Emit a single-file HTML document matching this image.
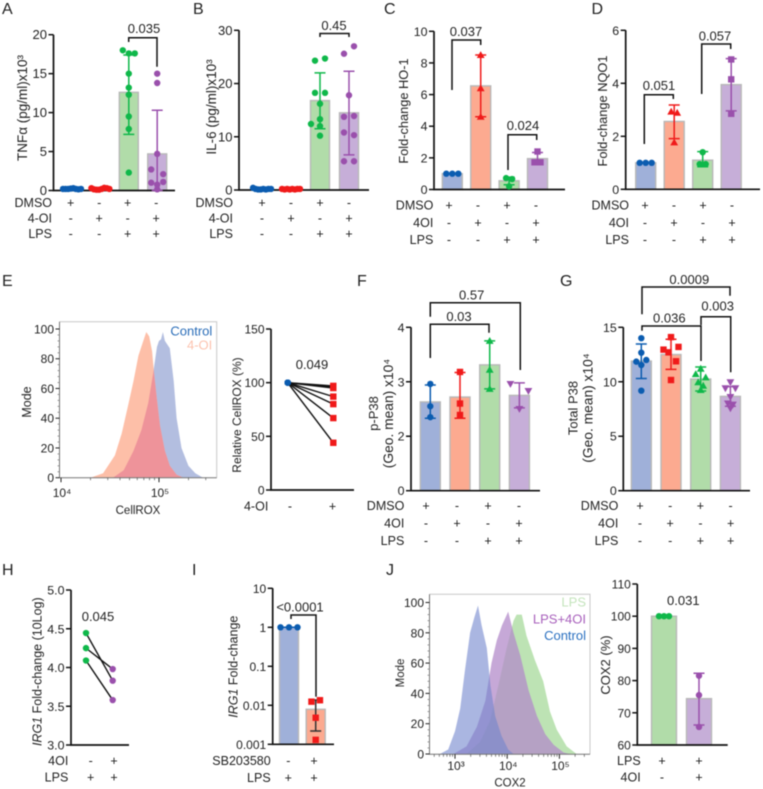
<!DOCTYPE html>
<html lang="en">
<head>
<meta charset="utf-8">
<title>Multi-panel figure</title>
<style>
html,body{margin:0;padding:0;background:#fff;width:763px;height:789px;overflow:hidden}
svg{display:block;filter:blur(.4px)}
text{font-family:"Liberation Sans",Arial,sans-serif;fill:#222}
</style>
</head>
<body>
<svg id="fig" xmlns="http://www.w3.org/2000/svg" width="763" height="789" viewBox="0 0 763 789">
<defs><clipPath id="e-clip"><path id="e-clip-path" d=""/></clipPath></defs>
</svg>
<script>
/* ---------- DATA ---------- */
const signsDmso = ['+','-','+','-'];
const signsOi = ['-','+','-','+'];
const signsLps = ['-','-','+','+'];

const aTicks = [0,5,10,15,20];
const aMeans = [0.2,0.2,12.6,4.7];
const aErrHi = [0.3,0.3,17.4,10.3];
const aErrLo = [0.1,0.1,7.2,0];
const aPoints = [
  [[0.2,0.2,0.2,0.25,0.3,0.2,0.15,0.2]],
  [[0.3,0.15,0.1,0.1,0.2,0.35,0.3,0.2]],
  [[18,17.6,17.6],[15],[13.2],[12.3],[9.5],[7.9],[2.3]],
  [[15],[13.8],[4.7],[2.7,null,2.1],[1.0,0.75,1.1],[0.15]]
];

const bTicks = [0,10,20,30];
const bMeans = [0.2,0.2,16.8,14.5];
const bErrHi = [0.3,0.3,22,22.3];
const bErrLo = [0.1,0.1,11.5,6.6];
const bPoints = [
  [[0.4,0.2,0.1,0.1,0.2,0.1,0.2,0.2]],
  [[0.2,0.1,0.2,0.1,0.2,0.1,0.2,0.2]],
  [[24.3,24.7],[18.25,18.25],[16.2],[13.3],[12.4,12,null],[10.2]],
  [[25.6,27],[17.8],[13.75,13.9],[10.8,10.3],[5.4,5.4]]
];

const cTicks = [0,2,4,6,8,10];
const cMeans = [1,6.55,0.55,1.95];
const cErrHi = [1,8.5,0.78,2.34];
const cErrLo = [1,4.6,0.3,1.6];
const cPoints = [
  [[1,1,1]],
  [[8.5],[6.4],[4.6]],
  [[0.72,0.66],[0.2]],
  [[2.4],[1.72,1.72]]
];

const dTicks = [0,2,4,6];
const dMeans = [1,2.56,1.1,3.95];
const dErrHi = [1,3.18,1.42,4.93];
const dErrLo = [1,1.91,0.85,2.96];
const dPoints = [
  [[1,1,1]],
  [[2.93,2.89],[1.77]],
  [[1.4],[0.95,0.95]],
  [[4.9],[4.15],[2.85]]
];

const fTicks = [0,2,3,4];
const fMeans = [2.63,2.72,3.31,2.75];
const fErrHi = [2.94,3.17,3.75,2.98];
const fErrLo = [2.33,2.33,2.87,2.52];
const fPoints = [
  [[2.96],[2.55],[2.35]],
  [[3.18],[2.6],[2.39]],
  [[3.75],[3.22],[2.87]],
  [[2.96,null,2.83],[2.5]]
];

const gTicks = [0,5,10,15];
const gMeans = [11.9,12.5,10.25,8.66];
const gErrHi = [13.47,13.9,11.35,9.55];
const gErrLo = [10.3,11.14,9.15,7.75];
const gPoints = [
  [[14],[12.67],[11.85,11.54,12],[9.18]],
  [[14.1],[12.95,12.7,null,13.2],[null,null,11.88],[10.16]],
  [[11.2],[10.7,null,10.4],[9.95,9.64],[9.24]],
  [[9.95],[9.4,null,9.4],[8.6],[8,7.9],[7.56]]
];

const iTicks = [0.001,0.01,0.1,1,10];
const iTickLabels = ['0.001','0.01','0.1','1','10'];
const iMeans = [1,0.0079];
const iErrHi = [1,0.0137];
const iErrLo = [1,0.0022];
const iPoints = [
  [[1,1,1]],
  [[0.0124,0.0135],[0.0048],[0.0013]]
];

const jBarTicks = [60,70,80,90,100,110];
const jBarMeans = [100,74.4];
const jBarErrHi = [100,82.3];
const jBarErrLo = [100,66.2];
const jBarPoints = [
  [[100,100,100]],
  [[81.5],[75.5],[65.6]]
];

const relRoxTicks = [0,50,100,150];
const relRoxBefore = [100,100,100,100,100,100,100];
const relRoxAfter = [97,96,95,87,80,67,44];

const hTicks = [3.0,3.5,4.0,4.5,5.0];
const hBefore = [4.445,4.25,4.09];
const hAfter = [3.83,3.98,3.58];

const histYTicks = [0,20,40,60,80,100];

const eControlLog = [4.53,4.64,4.74,4.82,4.89,4.94,4.98,5.00,5.02,5.04,5.06,5.11,5.15,5.18,5.23,5.30,5.37,5.45];
const eControlMode = [0,5,18,32,50,70,88,92,93,98,92,87,65,40,20,8,3,0];
const eOiLog = [4.30,4.43,4.55,4.62,4.69,4.74,4.79,4.84,4.87,4.90,4.93,4.95,4.98,5.01,5.06,5.11,5.18,5.25];
const eOiMode = [0,3,15,30,50,65,82,92,98,95,85,70,52,35,18,8,2,0];

const jControlLog = [2.71,2.87,3.0,3.10,3.19,3.29,3.37,3.44,3.51,3.61,3.68,3.77,3.89,4.02,4.12];
const jControlMode = [0,3,15,30,55,80,90,98,85,70,45,25,12,3,0];
const jOiLog = [2.97,3.22,3.42,3.58,3.70,3.80,3.90,4.02,4.12,4.25,4.41,4.57,4.73,4.89,5.08,5.20];
const jOiMode = [0,5,18,35,60,75,85,94,80,65,42,25,13,6,1,0];
const jLpsLog = [3.22,3.48,3.67,3.83,3.99,4.12,4.18,4.28,4.37,4.53,4.69,4.82,4.95,5.14,5.33];
const jLpsMode = [0,8,22,45,70,88,92,92,78,62,48,28,16,5,0];

/* ---------- STYLE ---------- */
const BLUE={bar:'#9fb0d9',pt:'#0b5cb0'}, RED={bar:'#fcaa90',pt:'#f01a1a'},
      GREEN={bar:'#b1dca9',pt:'#0fb84a'}, PURPLE={bar:'#c6aed8',pt:'#9a50ac'};
const FOUR=[BLUE,RED,GREEN,PURPLE];
const NS='http://www.w3.org/2000/svg';
const svg=document.getElementById('fig');

function mk(tag,attrs,parent){
  const n=document.createElementNS(NS,tag);
  for(const k in attrs) n.setAttribute(k,attrs[k]);
  (parent||svg).appendChild(n);
  return n;
}
function txt(parent,x,y,s,anchor,size,fill){
  const n=mk('text',{x:x,y:y,'text-anchor':anchor||'start','font-size':size||12.5},parent);
  if(fill) n.setAttribute('style','fill:'+fill);
  n.textContent=s;
  return n;
}
function vtxt(parent,x,y,s,size){
  const n=mk('text',{x:x,y:y,'text-anchor':'middle','font-size':size||12.5,transform:'rotate(-90 '+x+' '+y+')'},parent);
  n.textContent=s;
  
  
  return n;
}
function group(name){
  const g=mk('g',{},svg);
  
  
  return g;
}
function tickScale(ticks,y0,yTop,log){
  const seg=(y0-yTop)/(ticks.length-1);
  const f=v=>log?Math.log10(v):v;
  return function(v){
    let i=0;
    while(i<ticks.length-2 && v>ticks[i+1]) i++;
    const t=(f(v)-f(ticks[i]))/(f(ticks[i+1])-f(ticks[i]));
    return y0-(i+t)*seg;
  };
}
function marker(g,type,x,y,color){
  let n;
  if(type==='circle') n=mk('circle',{cx:x,cy:y,r:3.2,fill:color},g);
  else if(type==='square') n=mk('rect',{x:x-3.2,y:y-3.2,width:6.4,height:6.4,fill:color},g);
  else if(type==='up') n=mk('path',{d:'M'+x+' '+(y-3.9)+'L'+(x+3.9)+' '+(y+3)+'L'+(x-3.9)+' '+(y+3)+'Z',fill:color},g);
  else n=mk('path',{d:'M'+x+' '+(y+3.9)+'L'+(x+3.9)+' '+(y-3)+'L'+(x-3.9)+' '+(y-3)+'Z',fill:color},g);
  return n;
}
function yAxis(g,c,scale,ticks,labels){
  const ax=mk('path',{d:'M'+c.axisX+' '+c.yTop+'V'+c.y0+'H'+c.xEnd,fill:'none',stroke:'#111','stroke-width':1.7},g);
  
  
  ticks.forEach((t,i)=>{
    const y=scale(t);
    const tk=mk('line',{x1:c.axisX-5,x2:c.axisX,y1:y,y2:y,stroke:'#111','stroke-width':1.5},g);
    
    
    const lb=txt(g,c.axisX-6.5,y+4.5,labels?labels[i]:(c.fixed?t.toFixed(c.fixed):String(t)),'end',c.tickSize||12.4);
    
    
  });
}
function condRows(g,rows,c){
  rows.forEach((r,ri)=>{
    const y=c.rowY0+ri*c.rowStep;
    const lb=txt(g,c.rowRight,y,r.label,'end',12.5);
    
    
    r.signs.forEach((s,i)=>{
      const t=txt(g,c.condX0+i*c.condStep,y,s,'middle',12.5);
      
      
    });
  });
}
function bracket(g,x1,x2,top,b1,b2,label,lx,ly){
  const p=mk('path',{d:'M'+x1+' '+b1+'V'+top+'H'+x2+'V'+b2,fill:'none',stroke:'#111','stroke-width':1.5},g);
  
  
  const t=txt(g,lx,ly,label,'middle',13);
  
  
}
function pval(g,x,y,label){
  const t=txt(g,x,y,label,'middle',13);
  
  
}
function letter(s,x,y){
  const t=txt(svg,x,y,s,'start',16);
  
  
}
function barChart(g,c,means,hi,lo,points,ticks,colors,markers,labels){
  const scale=tickScale(ticks,c.y0,c.yTop,c.log);
  const X=i=>c.x0+i*c.step;
  means.forEach((m,i)=>{
    const y=scale(m);
    const bar=mk('rect',{x:X(i)-c.barW/2,y:y,width:c.barW,height:c.y0-y,fill:colors[i].bar,stroke:'#b8b8b8','stroke-width':1.4},g);
    
    
  });
  yAxis(g,c,scale,ticks,labels);
  means.forEach((m,i)=>{
    const col=(c.errColor&&c.errColor[i])||colors[i].pt;
    const yh=scale(hi[i]), yl=scale(Math.max(lo[i],ticks[0]));
    const e=mk('path',{d:'M'+X(i)+' '+yh+'V'+yl+'M'+(X(i)-5.5)+' '+yh+'H'+(X(i)+5.5)+'M'+(X(i)-5.5)+' '+yl+'H'+(X(i)+5.5),fill:'none',stroke:col,'stroke-width':1.5},g);
    
    
  });
  points.forEach((rows,i)=>{
    rows.forEach(row=>{
      const n=row.length;
      const sp=n>1?Math.min(c.spacing,18/(n-1)):0;
      row.forEach((v,k)=>{
        if(v===null) return;
        const x=X(i)+(k-(n-1)/2)*sp;
        const pt=marker(g,markers[i],x,scale(v),colors[i].pt);
        
        
      });
    });
  });
}
function histArea(g,logs,modes,xs,ys,base,attrs){
  let d='M'+xs(logs[0])+' '+base;
  logs.forEach((l,i)=>{d+='L'+xs(l).toFixed(1)+' '+ys(modes[i]).toFixed(1);});
  d+='L'+xs(logs[logs.length-1])+' '+base+'Z';
  const p=mk('path',Object.assign({d:d},attrs),g);
  return p;
}
function histFrame(g,c,xs,ys,decades,labels){
  const fr=mk('path',{d:'M'+c.left+' '+c.top+'H'+c.right+'V'+c.bottom,fill:'none',stroke:'#c8c8c8','stroke-width':1},g);
  
  
  const ax=mk('path',{d:'M'+c.left+' '+c.top+'V'+c.bottom+'H'+c.right,fill:'none',stroke:'#777','stroke-width':1},g);
  
  
  histYTicks.forEach(t=>{
    const y=ys(t);
    const tk=mk('line',{x1:c.left-4,x2:c.left,y1:y,y2:y,stroke:'#222','stroke-width':1},g);
    
    
    const lb=txt(g,c.left-5.5,y+4.5,String(t),'end',12);
    
    
    if(t<100) for(let m=4;m<20;m+=4){
      const mt=mk('line',{x1:c.left-2,x2:c.left,y1:ys(t+m),y2:ys(t+m),stroke:'#777','stroke-width':.7},g);
      
      
    }
  });
  decades.forEach((d,i)=>{
    const x=xs(d);
    const tk=mk('line',{x1:x,x2:x,y1:c.bottom,y2:c.bottom+4.5,stroke:'#222','stroke-width':1},g);
    
    
    const lb=txt(g,x+1,c.xLabelY,labels[i],'middle',12);
    
    
  });
  for(let d=decades[0]-1;d<=decades[decades.length-1];d++){
    for(let m=2;m<10;m++){
      const x=xs(d+Math.log10(m));
      if(x<c.left||x>c.right) continue;
      const mt=mk('line',{x1:x,x2:x,y1:c.bottom,y2:c.bottom+2.5,stroke:'#555','stroke-width':.7},g);
      
      
    }
  }
}
const FM=['circle','circle','circle','circle'];

/* ---------- PANEL A ---------- */
letter('A',2,14);
const gA=group('panel-a-tnf-chart');
barChart(gA,{axisX:53.5,y0:190.5,yTop:34.7,xEnd:175,x0:72,step:28.4,barW:19,spacing:6,tickSize:13},aMeans,aErrHi,aErrLo,aPoints,aTicks,FOUR,FM);
vtxt(gA,27,108,'TNFα (pg/ml)x10³',13.5);
bracket(gA,128.7,157,37.7,42,66.7,'0.035',144,33);
condRows(gA,[{label:'DMSO',signs:signsDmso},{label:'4-OI',signs:signsOi},{label:'LPS',signs:signsLps}],{rowY0:207,rowStep:15.5,rowRight:52,condX0:70.7,condStep:28.5});

/* ---------- PANEL B ---------- */
letter('B',193,14);
const gB=group('panel-b-il6-chart');
barChart(gB,{axisX:239,y0:190,yTop:30.3,xEnd:369,x0:262,step:29,barW:19,spacing:10,tickSize:13},bMeans,bErrHi,bErrLo,bPoints,bTicks,FOUR,FM);
vtxt(gB,216,107,'IL-6 (pg/ml)x10³',13.5);
bracket(gB,320,349,33.5,37,37,'0.45',334,30);
condRows(gB,[{label:'DMSO',signs:signsDmso},{label:'4-OI',signs:signsOi},{label:'LPS',signs:signsLps}],{rowY0:207,rowStep:15.5,rowRight:233,condX0:262,condStep:29});

/* ---------- PANEL C ---------- */
letter('C',384,14);
const gC=group('panel-c-ho1-chart');
barChart(gC,{axisX:434,y0:189.5,yTop:31.3,xEnd:565,x0:452.3,step:28.4,barW:20,spacing:6},cMeans,cErrHi,cErrLo,cPoints,cTicks,FOUR,['circle','up','circle','square']);
vtxt(gC,408,111,'Fold-change HO-1',12.8);
bracket(gC,452,480.7,40,90,45,'0.037',466,36);
bracket(gC,508,536.7,134.7,170,140,'0.024',523,130);
condRows(gC,[{label:'DMSO',signs:signsDmso},{label:'4OI',signs:signsOi},{label:'LPS',signs:signsLps}],{rowY0:209.5,rowStep:17.3,rowRight:433.3,condX0:449,condStep:29});

/* ---------- PANEL D ---------- */
letter('D',591.5,14);
const gD=group('panel-d-nqo1-chart');
barChart(gD,{axisX:625.7,y0:189.3,yTop:30.3,xEnd:760,x0:645.7,step:28.5,barW:20,spacing:6},dMeans,dErrHi,dErrLo,dPoints,dTicks,FOUR,['circle','up','circle','square']);
vtxt(gD,607,111,'Fold-change NQO1',12.8);
bracket(gD,644.3,673.3,94.7,144,99,'0.051',659,90);
bracket(gD,701.7,730.7,44,94,49,'0.057',715,40.7);
condRows(gD,[{label:'DMSO',signs:signsDmso},{label:'4OI',signs:signsOi},{label:'LPS',signs:signsLps}],{rowY0:209.5,rowStep:17.3,rowRight:629,condX0:645,condStep:29});

/* ---------- PANEL E histogram ---------- */
letter('E',2,286);
const gEh=group('panel-e-cellrox-histogram');
const eC={left:59.5,right:216.7,top:321.7,bottom:477.7,xLabelY:497};
const eX=l=>61+(l-4)*98, eY=m=>477.7-m*1.487;
const ea=histArea(gEh,eControlLog,eControlMode,eX,eY,477.7,{fill:'#b3bee0'});


const eb=histArea(gEh,eOiLog,eOiMode,eX,eY,477.7,{fill:'#fdbfa8'});


document.getElementById('e-clip-path').setAttribute('d',eb.getAttribute('d'));
const ec=histArea(gEh,eControlLog,eControlMode,eX,eY,477.7,{fill:'#ee939a','clip-path':'url(#e-clip)'});


histFrame(gEh,eC,eX,eY,[4,5],['10⁴','10⁵']);
vtxt(gEh,31,402,'Mode',12.5);
const eT=txt(gEh,138,514,'CellROX','middle',11.5);


const eL1=txt(gEh,212.3,335.7,'Control','end',13,'#2a6db8');


const eL2=txt(gEh,212.3,349.3,'4-OI','end',13,'#fcc2ae');



/* ---------- PANEL E paired ---------- */
const gEl=group('panel-e-relative-cellrox-chart');
const eLc={axisX:271,y0:490,yTop:329,xEnd:354,tickSize:12};
const eLs=tickScale(relRoxTicks,490,329,false);
yAxis(gEl,eLc,eLs,relRoxTicks);
relRoxBefore.forEach((b,i)=>{
  const l=mk('line',{x1:287.7,x2:333.3,y1:eLs(b),y2:eLs(relRoxAfter[i]),stroke:'#111','stroke-width':1.4},gEl);
  
  
});
relRoxBefore.forEach(b=>{
  const p=marker(gEl,'circle',287.7,eLs(b),BLUE.pt);
  
  
});
relRoxAfter.forEach(a=>{
  const p=marker(gEl,'square',333.3,eLs(a),RED.pt);
  
  
});
vtxt(gEl,241,415,'Relative CellROX (%)',12);
pval(gEl,312,369,'0.049');
condRows(gEl,[{label:'4-OI',signs:['-','+']}],{rowY0:510.7,rowStep:16,rowRight:268.3,condX0:290,condStep:42.5});

/* ---------- PANEL F ---------- */
letter('F',357,286);
const gF=group('panel-f-p-p38-chart');
barChart(gF,{axisX:411,y0:490.7,yTop:327.3,xEnd:540,x0:430.3,step:29.7,barW:20,spacing:9},fMeans,fErrHi,fErrLo,fPoints,fTicks,FOUR,['circle','square','up','down']);
vtxt(gF,378,413.5,'p-P38',13);
vtxt(gF,393,413.5,'(Geo. mean) x10⁴',13.8);
bracket(gF,430.3,520.3,302.7,316.7,370,'0.57',471.7,299.3);
bracket(gF,430.3,489,324.3,358,332.7,'0.03',459,321);
condRows(gF,[{label:'DMSO',signs:signsDmso},{label:'4OI',signs:signsOi},{label:'LPS',signs:signsLps}],{rowY0:510,rowStep:17.5,rowRight:404.3,condX0:426,condStep:31});

/* ---------- PANEL G ---------- */
letter('G',560,286);
const gG=group('panel-g-total-p38-chart');
barChart(gG,{axisX:623.3,y0:490.7,yTop:327.3,xEnd:750,x0:641.3,step:29.7,barW:20,spacing:5},gMeans,gErrHi,gErrLo,gPoints,gTicks,FOUR,['circle','square','up','down']);
vtxt(gG,577.5,408,'Total P38',13);
vtxt(gG,592.7,408,'(Geo. mean) x10⁴',13.8);
bracket(gG,642,730,287,314.3,295.7,'0.0009',689.3,284);
bracket(gG,642,701,326,330.7,361,'0.036',669.3,322.7);
bracket(gG,701,730.7,316.7,325,372.3,'0.003',717.7,310.7);
condRows(gG,[{label:'DMSO',signs:signsDmso},{label:'4OI',signs:signsOi},{label:'LPS',signs:signsLps}],{rowY0:510,rowStep:17.5,rowRight:618.3,condX0:640,condStep:30.2});

/* ---------- PANEL H ---------- */
letter('H',2,575);
const gH=group('panel-h-irg1-paired-chart');
const hS=tickScale(hTicks,745,590,false);
yAxis(gH,{axisX:71,y0:745,yTop:590,xEnd:129,fixed:1},hS,hTicks);
hBefore.forEach((b,i)=>{
  const l=mk('line',{x1:86,x2:112.7,y1:hS(b),y2:hS(hAfter[i]),stroke:'#111','stroke-width':1.4},gH);
  
  
});
hBefore.forEach(b=>{
  const p=marker(gH,'circle',86,hS(b),GREEN.pt);
  
  
});
hAfter.forEach(a=>{
  const p=marker(gH,'circle',112.7,hS(a),PURPLE.pt);
  
  
});
const hTitle=vtxt(gH,41.7,671.7,'');
mk('tspan',{'font-style':'italic'},hTitle).textContent='IRG1';
mk('tspan',{},hTitle).textContent=' Fold-change (10Log)';
pval(gH,98,621,'0.045');
condRows(gH,[{label:'4OI',signs:['-','+']},{label:'LPS',signs:['+','+']}],{rowY0:765,rowStep:16.7,rowRight:68.3,condX0:90.7,condStep:23.3});

/* ---------- PANEL I ---------- */
letter('I',192,575);
const gI=group('panel-i-irg1-log-chart');
barChart(gI,{axisX:272.7,y0:744.3,yTop:588.3,xEnd:334,x0:289,step:26.7,barW:19,spacing:8.5,log:true,errColor:[null,'#333'],tickSize:12},iMeans,iErrHi,iErrLo,iPoints,iTicks,[BLUE,RED],['circle','square'],iTickLabels);
const iTitle=vtxt(gI,237.7,666.7,'');
mk('tspan',{'font-style':'italic'},iTitle).textContent='IRG1';
mk('tspan',{},iTitle).textContent=' Fold-change';
bracket(gI,291,316,615,619,696.7,'<0.0001',300,611.7);
condRows(gI,[{label:'SB203580',signs:['-','+']},{label:'LPS',signs:['+','+']}],{rowY0:765,rowStep:17,rowRight:270.7,condX0:288.3,condStep:25.7});

/* ---------- PANEL J histogram ---------- */
letter('J',386,575);
const gJh=group('panel-j-cox2-histogram');
const jC={left:429.5,right:590,top:594.3,bottom:754.3,xLabelY:770};
const jX=l=>455+(l-3)*52.2, jY=m=>754-m*1.515;
const ja=histArea(gJh,jLpsLog,jLpsMode,jX,jY,754.3,{fill:'#bde3b4'});


const jb=histArea(gJh,jOiLog,jOiMode,jX,jY,754.3,{fill:'#b38bca','fill-opacity':.75});


const jc=histArea(gJh,jControlLog,jControlMode,jX,jY,754.3,{fill:'#7185cd','fill-opacity':.6});


histFrame(gJh,jC,jX,jY,[3,4,5],['10³','10⁴','10⁵']);
vtxt(gJh,404,673,'Mode',11.5);
const jT=txt(gJh,510,786.5,'COX2','middle',11.5);


const jL1=txt(gJh,586,606.7,'LPS','end',13,'#c4e4bc');


const jL2=txt(gJh,586,623.3,'LPS+4OI','end',13,'#a860bc');


const jL3=txt(gJh,586,640,'Control','end',13,'#2a70c0');



/* ---------- PANEL J bars ---------- */
const gJb=group('panel-j-cox2-bar-chart');
barChart(gJb,{axisX:637.3,y0:745,yTop:584,xEnd:727.7,x0:664,step:35,barW:25,spacing:5,tickSize:12},jBarMeans,jBarErrHi,jBarErrLo,jBarPoints,jBarTicks,[GREEN,PURPLE],['circle','circle']);
vtxt(gJb,610,665,'COX2 (%)',13);
pval(gJb,683.3,605,'0.031');
condRows(gJb,[{label:'LPS',signs:['+','+']},{label:'4OI',signs:['-','+']}],{rowY0:765,rowStep:16.7,rowRight:640.7,condX0:662,condStep:37});
</script>
</body>
</html>
